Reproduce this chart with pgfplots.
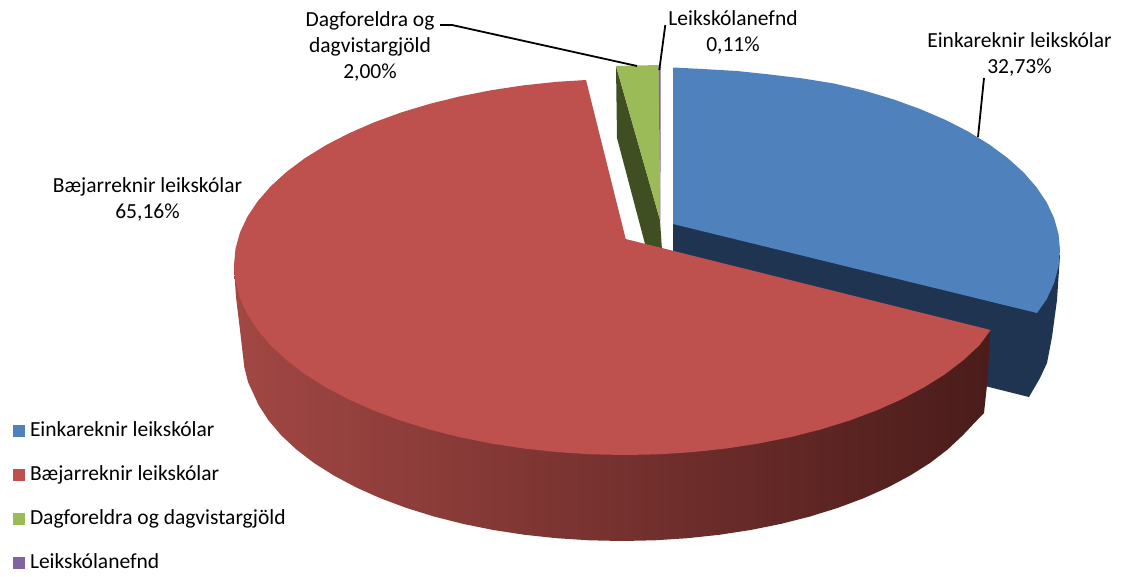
\documentclass[border=0pt]{standalone}
\usepackage{fontspec}
\setmainfont{Carlito}
\usepackage{pgfplots}
\pgfplotsset{compat=1.18}
\definecolor{cblue}{HTML}{4F81BD}
\definecolor{cred}{HTML}{BE504D}
\definecolor{cgreen}{HTML}{9BBB59}
\definecolor{cpurple}{HTML}{8064A2}
\definecolor{dblue}{HTML}{1E3450}
\definecolor{dgreen}{HTML}{404F22}
\definecolor{sideL}{HTML}{A24744}
\definecolor{sideM}{HTML}{773230}
\definecolor{sideR}{HTML}{4A1C1A}
\newcommand{\lbl}{\fontsize{21.5}{26}\selectfont}
\begin{document}
\begin{tikzpicture}
\begin{axis}[
  width=1125pt, height=576pt, scale only axis,
  xmin=0, xmax=1125, ymin=0, ymax=576, y dir=reverse,
  hide axis, clip=false,
  legend style={at={(axis cs:13,423)}, anchor=north west, draw=none, fill=none,
    inner sep=0pt, outer sep=0pt, row sep=26pt, font=\lbl, cells={anchor=west},
    nodes={inner sep=0pt, text height=13pt, text depth=5pt}},
  legend image code/.code={\path[#1] (0pt,-5pt) rectangle (12pt,7pt);},
]
% page frame: hide axis leaves the axis box out of the bounding box
\path (axis cs:0,0) rectangle (axis cs:1125,576);
% legend, values 32,73 / 65,16 / 2,00 / 0,11
\addlegendimage{fill=cblue,draw=none}\addlegendentry{\hspace{5pt}Einkareknir leikskólar}
\addlegendimage{fill=cred,draw=none}\addlegendentry{\hspace{5pt}Bæjarreknir leikskólar}
\addlegendimage{fill=cgreen,draw=none}\addlegendentry{\hspace{5pt}Dagforeldra og dagvistargjöld}
\addlegendimage{fill=cpurple,draw=none}\addlegendentry{\hspace{5pt}Leikskólanefnd}

% blue slice, side then top
\addplot[fill=dblue, draw=none, forget plot] coordinates {
  (673,224)(1060,255)(1057,300)(1052,337)(1047,363)(1040,378)(1029,397)(973,383)(673,300)} --cycle;
\addplot[fill=cblue, draw=none, forget plot] coordinates {
  (673,67.5)(703,69)(737,71)(770,74.5)(803,78.5)(834,83.5)(864.5,90.7)(893.3,99.3)
  (920.3,109.1)(945.5,119.9)(968.5,131.7)(989.3,144.5)(1007.6,158)(1023.4,172.2)
  (1036.4,187.1)(1046.7,202.4)(1054.1,218.1)(1058.5,234)(1060,250)
  (1058.5,266.6)(1054.1,283)(1046.7,299.2)(1037,313)(673,224)} --cycle;

% green and purple slices
\addplot[fill=dgreen, draw=none, forget plot] coordinates {
  (616,66)(617,138)(645,244)(662,250)(660,220)} --cycle;
\addplot[fill=cgreen, draw=none, forget plot] coordinates {
  (616,66)(658.7,65)(660,220)} --cycle;
\addplot[fill=cpurple, draw=none, forget plot] coordinates {
  (658.7,65)(660.7,66)(660.4,220)(660,220)} --cycle;

% red slice, shaded side then top
\addplot[left color=sideL, middle color=sideM, right color=sideR, draw=none, forget plot] coordinates {
  (234,268)(236,297)(240,330)(244.3,367)(248,382)(258.8,405.4)(268.7,420.6)(281.2,435.3)
  (296.4,449.5)(314,463)(334,475.6)(356.1,487.4)(380.3,498.2)(406.3,507.9)(434,516.5)
  (463.1,523.9)(493.4,530)(524.7,534.8)(556.7,538.2)(589.2,540.3)(622,541)
  (654.8,540.3)(687.3,538.2)(719.3,534.8)(750.6,530)(780.9,523.9)(810,516.5)
  (837.7,507.9)(863.7,498.2)(887.9,487.4)(910,475.6)(930,463)(947.6,449.5)
  (962.8,435.3)(975.3,422)(984,413)(987,385)(990.7,330)(625,300)} --cycle;
\addplot[fill=cred, draw=none, forget plot] coordinates {
  (586,80)(557.1,81.8)(523.8,85.3)(491.3,90.2)(459.8,96.4)(429.5,103.9)(400.7,112.6)
  (373.7,122.5)(348.5,133.5)(325.5,145.4)(304.7,158.3)(286.4,172)(270.6,186.4)
  (257.6,201.4)(247.3,216.9)(239.9,232.7)(235.5,248.8)(234,265)
  (235.5,281.6)(239.9,298)(247.3,314.2)(257.6,330)(270.6,345.3)(286.4,360)(304.7,374)
  (325.5,387.1)(348.5,399.3)(373.7,410.5)(400.7,420.6)(429.5,429.5)(459.8,437.2)
  (491.3,443.5)(523.8,448.5)(557.1,452.1)(590.9,454.3)(625,455)
  (659.1,454.3)(692.9,452.1)(726.2,448.5)(758.7,443.5)(790.2,437.2)(820.5,429.5)
  (849.3,420.6)(876.3,410.5)(901.5,399.3)(924.5,387.1)(945.3,374)(963.6,360)
  (979.4,345.3)(990.7,330)(625.7,239)} --cycle;

% leader lines
\addplot[black, line width=1.8pt, forget plot] coordinates {(978,137)(984,78)};
\addplot[black, line width=1.8pt, forget plot] coordinates {(440,25)(452,25)(637,66)};
\addplot[black, line width=1.8pt, forget plot] coordinates {(659.3,70)(665.3,25)};

% data labels
\node[align=center, font=\lbl, inner sep=0pt] at (axis cs:1019.5,54) {Einkareknir leikskólar\\32,73\%};
\node[align=center, font=\lbl, inner sep=0pt] at (axis cs:733,32) {Leikskólanefnd\\0,11\%};
\node[align=center, font=\lbl, inner sep=0pt] at (axis cs:370,46.5) {Dagforeldra og\\dagvistargjöld\\2,00\%};
\node[align=center, font=\lbl, inner sep=0pt] at (axis cs:147.5,199) {Bæjarreknir leikskólar\\65,16\%};
\end{axis}
\end{tikzpicture}
\end{document}
